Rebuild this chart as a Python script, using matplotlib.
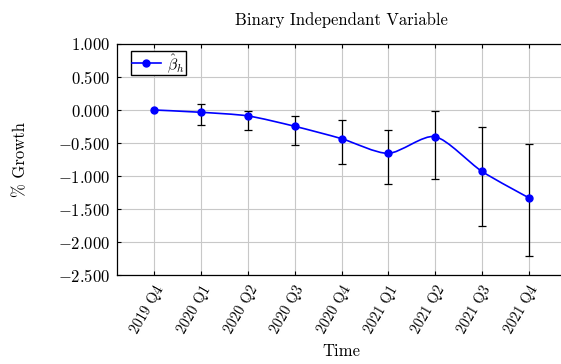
import matplotlib.pyplot as plt
import matplotlib.transforms as mtransforms
import numpy as np
from matplotlib.path import Path
from matplotlib.patches import PathPatch
from matplotlib.lines import Line2D
from matplotlib.ticker import FuncFormatter

plt.rcParams['font.family'] = 'cmr10'
plt.rcParams['mathtext.fontset'] = 'cm'
plt.rcParams['axes.unicode_minus'] = False

trimestres = ['2019 Q4', '2020 Q1', '2020 Q2', '2020 Q3', '2020 Q4',
              '2021 Q1', '2021 Q2', '2021 Q3', '2021 Q4']
beta_h = [0.0, -0.035, -0.090, -0.247, -0.434, -0.657, -0.404, -0.929, -1.328]
limite_sup = [0.0, 0.090, -0.020, -0.086, -0.157, -0.298, -0.015, -0.258, -0.520]
limite_inf = [0.0, -0.230, -0.300, -0.535, -0.813, -1.116, -1.040, -1.753, -2.212]
yticks = [1.0, 0.5, 0.0, -0.5, -1.0, -1.5, -2.0, -2.5]


def curva_suave(x, y, k=0.13):
    # curva suave (bezier cubica) que pasa por todos los puntos
    pts = np.column_stack([x, y]).astype(float)
    n = len(pts)
    verts = [pts[0]]
    codes = [Path.MOVETO]
    for i in range(n - 1):
        p0 = pts[max(i - 1, 0)]
        p1 = pts[i]
        p2 = pts[i + 1]
        p3 = pts[min(i + 2, n - 1)]
        c1 = p1 + k * (p2 - p0) if i > 0 else p1
        c2 = p2 - k * (p3 - p1) if i + 1 < n - 1 else p2
        verts += [c1, c2, p2]
        codes += [Path.CURVE4] * 3
    return Path(verts, codes)


fs = 12
fig = plt.figure(figsize=(5.61, 3.64), dpi=100)
ax = fig.add_axes([117 / 561, 89 / 364, 449 / 561, 231 / 364])

x = np.arange(len(trimestres))
beta = np.array(beta_h)
err = [beta - np.array(limite_inf), np.array(limite_sup) - beta]

# Barras de error
ax.errorbar(x[1:], beta[1:], yerr=[err[0][1:], err[1][1:]], fmt='none',
            ecolor='black', elinewidth=0.9, capsize=3, capthick=0.9, zorder=3)

# Linea suavizada y marcadores
ax.add_patch(PathPatch(curva_suave(x, beta), facecolor='none',
                       edgecolor='blue', linewidth=1.2, zorder=4))
ax.plot(x, beta, 'o', color='blue', markersize=5, zorder=5)

ax.set_xlim(-0.8, 8.8)
ax.set_ylim(-2.5, 1.0)
ax.set_xticks(x)
ax.set_xticklabels(trimestres, rotation=60, ha='right', va='top',
                   rotation_mode='anchor', fontsize=10.5)
# correr las etiquetas un poco a la derecha
desplaza = mtransforms.ScaledTranslation(5 / 100, 0, fig.dpi_scale_trans)
for lbl in ax.get_xticklabels():
    lbl.set_transform(lbl.get_transform() + desplaza)
ax.set_yticks(yticks)
ax.yaxis.set_major_formatter(FuncFormatter(lambda v, _: f'${v:.3f}$'))
ax.tick_params(direction='in', length=3, top=True, right=True)
ax.tick_params(axis='x', pad=6)
ax.tick_params(axis='y', pad=5, labelsize=fs)
ax.grid(True, color='#c8c8c8', linewidth=0.8)
ax.set_axisbelow(True)
for s in ax.spines.values():
    s.set_linewidth(0.9)

ax.set_title('Binary Independant Variable', fontsize=fs, pad=14)
ax.set_xlabel('Time', fontsize=fs, labelpad=5)
ax.set_ylabel('% Growth', fontsize=fs, labelpad=21)

leyenda = Line2D([], [], color='blue', marker='o', markersize=5, linewidth=1.2)
ax.legend([leyenda], [r'$\hat{\beta}_h$'], loc='upper left',
          bbox_to_anchor=(14 / 449, 1 - 7 / 231), borderaxespad=0,
          fancybox=False, edgecolor='black', framealpha=1, fontsize=11.5,
          handlelength=1.8, handletextpad=0.4, borderpad=0.05)

fig.savefig('out.png', dpi=100)
